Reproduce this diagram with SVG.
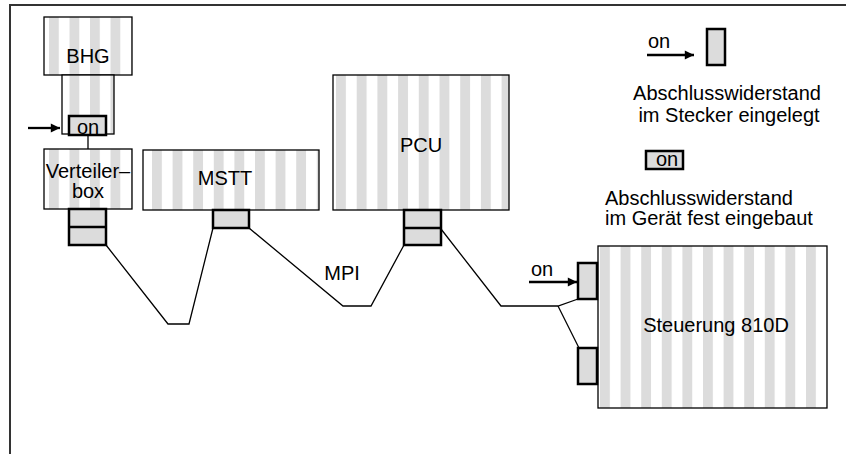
<svg xmlns="http://www.w3.org/2000/svg" width="846" height="454" viewBox="0 0 846 454">
<style>
text{font-family:"Liberation Sans",Arial,sans-serif;font-size:20px;fill:#000}
.dev{stroke:#000;stroke-width:1.3}
.con{fill:#dcdcdc;stroke:#000;stroke-width:2.5}
.wire{fill:none;stroke:#000;stroke-width:1.3}
.arr{stroke:#000;stroke-width:2.3;marker-end:url(#ah)}
</style>
<defs>
<marker id="ah" viewBox="0 0 10 10" refX="10" refY="5" markerWidth="7.5" markerHeight="4" orient="auto" markerUnits="strokeWidth"><path d="M0,0L10,5L0,10z" fill="#000"/></marker>
<pattern id="s1" patternUnits="userSpaceOnUse" x="49" y="0" width="20.5" height="10"><rect width="10" height="10" fill="#dcdcdc"/><rect x="10" width="10.5" height="10" fill="#fff"/></pattern>
<pattern id="s2" patternUnits="userSpaceOnUse" x="152" y="0" width="20.6" height="10"><rect width="10" height="10" fill="#dcdcdc"/><rect x="10" width="10.6" height="10" fill="#fff"/></pattern>
<pattern id="s3" patternUnits="userSpaceOnUse" x="336" y="0" width="20.7" height="10"><rect width="10" height="10" fill="#dcdcdc"/><rect x="10" width="10.7" height="10" fill="#fff"/></pattern>
<pattern id="s4" patternUnits="userSpaceOnUse" x="600" y="0" width="20.6" height="10"><rect width="10" height="10" fill="#dcdcdc"/><rect x="10" width="10.6" height="10" fill="#fff"/></pattern>
</defs>
<g id="frame"><path d="M9,5H846M10,5V454" fill="none" stroke="#333" stroke-width="2"/></g>
<g id="connectors">
<path class="wire" d="M106,245L168,324H189L213,228"/>
<path class="wire" d="M249,228L343,306H371L404,245"/>
<path class="wire" d="M441,229L501,306H558L578,299"/>
<path class="wire" d="M558,306L579,348"/>
<path class="wire" d="M88,135V150"/>
<line class="arr" x1="28" y1="128" x2="60" y2="128"/>
<line class="arr" x1="529" y1="282" x2="577" y2="282"/>
</g>
<g id="bhg">
<rect class="dev" x="44" y="17" width="88" height="58" fill="url(#s1)"/>
<rect class="dev" x="62" y="75" width="52" height="59" fill="url(#s1)"/>
<text x="88" y="63" text-anchor="middle">BHG</text>
<rect class="con" x="69" y="116" width="37" height="19"/>
<text x="88" y="134" text-anchor="middle">on</text>
</g>
<g id="verteilerbox">
<rect class="dev" x="44" y="149" width="88" height="60" fill="url(#s1)"/>
<text x="88" y="178" text-anchor="middle">Verteiler–</text>
<text x="88" y="198" text-anchor="middle">box</text>
<rect class="con" x="69" y="209" width="37" height="36"/>
<line x1="69" y1="227" x2="106" y2="227" stroke="#000" stroke-width="2.5"/>
</g>
<g id="mstt">
<rect class="dev" x="143" y="150" width="176" height="60" fill="url(#s2)"/>
<text x="225" y="185" text-anchor="middle">MSTT</text>
<rect class="con" x="213" y="210" width="36" height="18"/>
</g>
<g id="pcu">
<rect class="dev" x="333" y="75" width="176" height="135" fill="url(#s3)"/>
<text x="421" y="152" text-anchor="middle">PCU</text>
<rect class="con" x="404" y="210" width="37" height="35"/>
<line x1="404" y1="228" x2="441" y2="228" stroke="#000" stroke-width="2.5"/>
</g>
<g id="mpi-label"><text x="342" y="280" text-anchor="middle">MPI</text></g>
<g id="steuerung">
<rect class="dev" x="598" y="246" width="229" height="162" fill="url(#s4)"/>
<text x="716" y="332" text-anchor="middle">Steuerung 810D</text>
<rect class="con" x="578" y="263" width="19" height="36"/>
<rect class="con" x="578" y="348" width="19" height="36"/>
<text x="542" y="276" text-anchor="middle">on</text>
</g>
<g id="legend">
<text x="659" y="48" text-anchor="middle">on</text>
<line class="arr" x1="647" y1="55" x2="694" y2="55"/>
<rect class="con" x="707" y="29" width="18" height="36"/>
<text x="727" y="100" text-anchor="middle">Abschlusswiderstand</text>
<text x="729" y="122" text-anchor="middle">im Stecker eingelegt</text>
<rect class="con" x="646" y="151" width="37" height="18"/>
<text x="667" y="166" text-anchor="middle">on</text>
<text x="605" y="205">Abschlusswiderstand</text>
<text x="605" y="225">im Gerät fest eingebaut</text>
</g>
</svg>
